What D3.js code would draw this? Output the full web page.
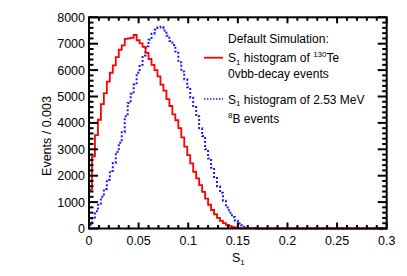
<!DOCTYPE html>
<html>
<head>
<meta charset="utf-8">
<script src="https://cdn.jsdelivr.net/npm/d3@7"></script>
<style>
  body { margin: 0; background: #fff; }
  svg { display: block; font-family: 'Liberation Sans', Arial, Helvetica, sans-serif; }
</style>
</head>
<body>
<div class="chart"></div>
<script>
// histogram binning, 0 to 0.3 in steps of 0.003
const binWidth = 0.003;
const xDomain = [0, 0.3];
const yDomain = [0, 8000];

// S1 of 130Te 0vbb-decay events (red, solid)
const teCounts = [
  1470, 2730, 3540, 4120, 4710, 5130, 5560, 5900, 6180, 6490,
  6770, 6940, 7180, 7200, 7220, 7330, 7130, 7010, 6880, 6650,
  6420, 6200, 6000, 5760, 5450, 5220, 4900, 4640, 4320, 4100,
  3800, 3450, 3100, 2780, 2470, 2150, 1900, 1640, 1390, 1130,
  900, 700, 540, 400, 290, 200, 135, 85, 50, 30,
  15, 8, 4, 2, 1, 1, 0, 0, 0, 0,
  0, 0, 0, 0, 0, 0, 0, 0, 0, 0,
  0, 0, 0, 0, 0, 0, 0, 0, 0, 0,
  0, 0, 0, 0, 0, 0, 0, 0, 0, 0,
  0, 0, 0, 0, 0, 0, 0, 0, 0, 0
];

// S1 of 2.53 MeV 8B events (blue, dotted)
const bCounts = [
  130, 420, 650, 900, 1200, 1500, 1850, 2180, 2480, 2900,
  3250, 3650, 4250, 4750, 5100, 5450, 5900, 6200, 6550, 6900,
  7150, 7380, 7530, 7610, 7640, 7500, 7300, 7100, 6950, 6700,
  6300, 5950, 5650, 5350, 4950, 4600, 4250, 3800, 3500, 3000,
  2650, 2300, 1950, 1600, 1350, 1050, 800, 600, 440, 290,
  190, 120, 65, 30, 12, 5, 0, 0, 0, 0,
  0, 0, 0, 0, 0, 0, 0, 0, 0, 0,
  0, 0, 0, 0, 0, 0, 0, 0, 0, 0,
  0, 0, 0, 0, 0, 0, 0, 0, 0, 0,
  0, 0, 0, 0, 0, 0, 0, 0, 0, 0
];

const xTicks = [0, 0.05, 0.1, 0.15, 0.2, 0.25, 0.3];
const xTickLabels = ['0', '0.05', '0.1', '0.15', '0.2', '0.25', '0.3'];
const yTicks = [0, 1000, 2000, 3000, 4000, 5000, 6000, 7000, 8000];

const width = 407, height = 276;
const margin = { top: 17.3, right: 20.3, bottom: 47.5, left: 89 };

const svg = d3.select('.chart').append('svg')
  .attr('width', width)
  .attr('height', height);

const x = d3.scaleLinear().domain(xDomain).range([margin.left, width - margin.right]);
const y = d3.scaleLinear().domain(yDomain).range([height - margin.bottom, margin.top]);

const x0 = x.range()[0], x1 = x.range()[1];
const y0 = y.range()[0], y1 = y.range()[1];

// step outline of a histogram
function histPoints(counts) {
  const pts = [[0, 0]];
  counts.forEach((c, i) => pts.push([i * binWidth, c]));
  pts.push([counts.length * binWidth, counts[counts.length - 1]]);
  return pts;
}

const line = d3.line()
  .x(d => x(d[0]))
  .y(d => y(d[1]))
  .curve(d3.curveStepAfter);

svg.append('path')
  .attr('d', line(histPoints(bCounts)))
  .attr('fill', 'none')
  .attr('stroke', '#1a1aff')
  .attr('stroke-width', 2)
  .attr('stroke-dasharray', '2,2');

svg.append('path')
  .attr('d', line(histPoints(teCounts)))
  .attr('fill', 'none')
  .attr('stroke', '#ff0000')
  .attr('stroke-width', 1.8);

// ticks, ROOT style: inward on all four sides
const ticks = svg.append('g').attr('stroke', '#000').attr('stroke-width', 2);

const yMinor = d3.range(0, 8001, 200);
yMinor.forEach(v => {
  const major = v % 1000 === 0;
  const len = major ? 9 : 4.5;
  ticks.append('line').attr('x1', x0).attr('x2', x0 + len).attr('y1', y(v)).attr('y2', y(v));
  ticks.append('line').attr('x1', x1).attr('x2', x1 - len).attr('y1', y(v)).attr('y2', y(v));
});

const xMinor = d3.range(0, 31).map(i => i / 100);
xMinor.forEach((v, i) => {
  const major = i % 5 === 0;
  const len = major ? 6 : 3.5;
  ticks.append('line').attr('x1', x(v)).attr('x2', x(v)).attr('y1', y0).attr('y2', y0 - len);
  ticks.append('line').attr('x1', x(v)).attr('x2', x(v)).attr('y1', y1).attr('y2', y1 + len);
});

// frame
svg.append('rect')
  .attr('x', x0).attr('y', y1)
  .attr('width', x1 - x0).attr('height', y0 - y1)
  .attr('fill', 'none')
  .attr('stroke', '#000')
  .attr('stroke-width', 2);

// tick labels
svg.append('g').selectAll('text')
  .data(yTicks)
  .join('text')
  .attr('x', x0 - 4)
  .attr('y', d => y(d) + 4.5)
  .attr('text-anchor', 'end')
  .attr('font-size', 12.5)
  .text(d => d);

svg.append('g').selectAll('text')
  .data(xTicks)
  .join('text')
  .attr('x', d => x(d))
  .attr('y', y0 + 16)
  .attr('text-anchor', 'middle')
  .attr('font-size', 12.5)
  .text((d, i) => xTickLabels[i]);

// axis titles
svg.append('text')
  .attr('transform', 'translate(51,136) rotate(-90)')
  .attr('text-anchor', 'middle')
  .attr('font-size', 12.5)
  .text('Events / 0.003');

const xt = svg.append('text')
  .attr('x', 232)
  .attr('y', 262)
  .attr('font-size', 12.5);
xt.append('tspan').text('S');
xt.append('tspan').attr('font-size', 8).attr('dy', 3).text('1');

// legend
const lg = svg.append('g').attr('font-size', 12);
const lx = 228;

lg.append('text').attr('x', lx).attr('y', 42.5).text('Default Simulation:');

lg.append('line')
  .attr('x1', 204).attr('x2', 223).attr('y1', 57.7).attr('y2', 57.7)
  .attr('stroke', '#ff0000').attr('stroke-width', 1.8);
const t1 = lg.append('text').attr('x', lx).attr('y', 62);
t1.append('tspan').text('S');
t1.append('tspan').attr('font-size', 8).attr('dy', 2.5).text('1');
t1.append('tspan').attr('dy', -2.5).text(' histogram of ');
t1.append('tspan').attr('font-size', 8).attr('dy', -5).text('130');
t1.append('tspan').attr('dy', 5).text('Te');
lg.append('text').attr('x', lx).attr('y', 78).text('0vbb-decay events');

lg.append('line')
  .attr('x1', 204).attr('x2', 223).attr('y1', 99).attr('y2', 99)
  .attr('stroke', '#1a1aff').attr('stroke-width', 1.5)
  .attr('stroke-dasharray', '1.5,1.5');
const t2 = lg.append('text').attr('x', lx).attr('y', 103.5);
t2.append('tspan').text('S');
t2.append('tspan').attr('font-size', 8).attr('dy', 2.5).text('1');
t2.append('tspan').attr('dy', -2.5).text(' histogram of 2.53 MeV');
const t3 = lg.append('text').attr('x', lx).attr('y', 123);
t3.append('tspan').attr('font-size', 8).attr('dy', -5).text('8');
t3.append('tspan').attr('dy', 5).text('B events');
</script>
</body>
</html>
